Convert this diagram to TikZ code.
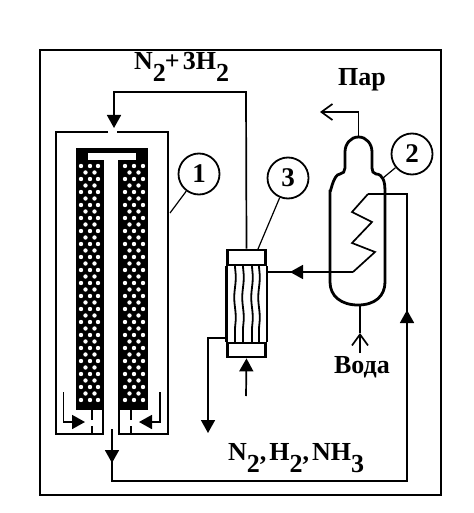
\documentclass[tikz,border=0pt]{standalone}
\usepackage{fontspec}
\setmainfont{Liberation Serif}
\usetikzlibrary{arrows.meta,positioning,decorations.pathmorphing}
\newcommand{\lowered}[1]{\raisebox{-12pt}{#1}}
\begin{document}
\begin{tikzpicture}[x=1pt,y=-1pt,
  wall/.style={draw=black, line width=2.8pt},
  pipe/.style={draw=black, line width=1.7pt, line join=miter},
  flow/.style={pipe, -{Triangle[length=13pt,width=14pt]}},
  steam/.style={pipe, -{Straight Barb[length=11pt,width=16pt]}},
  label/.style={font=\fontsize{26}{28}\selectfont\bfseries, inner sep=0pt},
  callout/.style={circle, draw=black, line width=1.8pt, minimum size=41pt, inner sep=0pt,
    font=\fontsize{27}{29}\selectfont\bfseries},
  lead/.style={draw=black, line width=1.2pt},
  header/.style={rectangle, draw=black, line width=2.8pt, minimum width=38pt, inner sep=0pt, fill=white},
  tube/.style={draw=black, line width=1.8pt, decorate, decoration={snake, amplitude=0.8pt, segment length=40pt}}
]
  \useasboundingbox (0,0) rectangle (473,513);
  \fill[white] (0,0) rectangle (473,513);
  \draw[draw=black, line width=2.4pt] (40,50) rectangle (441,495);

  % reactor 1: beds
  \fill[black] (76,148) rectangle (103,410);
  \fill[black] (119,148) rectangle (148,410);
  \fill[black] (76,148) rectangle (148,160);
  \fill[white] (88,153) rectangle (136,160);
  \fill[white] (103,153) rectangle (119,410);
  \foreach \y in {166,179,...,405}
    \foreach \x in {81,90,98,125,134,143}
      \fill[white] (\x,\y) circle (2.2pt);
  \foreach \y in {172.5,185.5,...,405}
    \foreach \x in {85.5,94.5,129.5,138.5}
      \fill[white] (\x,\y) circle (2.2pt);

  % reactor 1: shell
  \draw[wall] (108,132) -- (56,132) -- (56,434) -- (103,434) -- (103,160);
  \draw[wall] (117,132) -- (168,132) -- (168,434) -- (119,434) -- (119,160);
  \draw[pipe] (92,410) -- (92,420) (92,426) -- (92,434);
  \draw[pipe] (131,410) -- (131,420) (131,426) -- (131,434);
  \coordinate (inL) at (63.5,392);
  \coordinate (inR) at (160,392);
  \draw[flow] (inL) |- (85,422);
  \draw[flow] (inR) |- (139,422);

  % exchanger 3
  \node[header, minimum height=15pt] (hxtop) at (246.5,257.5) {};
  \node[header, minimum height=14pt] (hxbot) at (246.5,350) {};
  \draw[wall] (hxtop.south west) -- (hxbot.north west);
  \draw[wall] (hxtop.south east) -- (hxbot.north east);
  \foreach \x in {235,243,252,259}
    \draw[tube] (\x,265) -- (\x,343);

  % vessel 2
  \node[inner sep=0pt, minimum size=0pt] (vessel) at (358.5,137) {};
  \draw[draw=black, line width=2.8pt] (vessel) to[out=0,in=90] (372,152) -- (372,168)
    to[out=-90,in=180] ++(4,6) to[out=0,in=90] (385,190) -- (385,282)
    .. controls (385,296) and (375,305) .. (358,305)
    .. controls (341,305) and (330,296) .. (330,282) -- (330,190)
    to[out=-90,in=180] (340,174) to[out=0,in=-90] (345,168) -- (345,152)
    to[out=90,in=180] (vessel);

  % coil
  \coordinate (coilin) at (368,194);
  \coordinate (coilout) at (353,272);
  \draw[pipe] (coilin) -- (352,212) -- (372,222) -- (352,243) -- (375,252) -- (coilout);

  % process lines
  \coordinate (feedtop) at (246,92);
  \coordinate (reactorin) at (114,128);
  \draw[flow] (hxtop.north) -- (feedtop) -| (reactorin);
  \coordinate (reactorout) at (112,429);
  \coordinate (recycle) at (407,481);
  \draw[pipe] (reactorout) -- (112,481) -- (recycle) -- (407,194) -- (coilin);
  \draw[flow] (112,440) -- (112,463);
  \draw[flow] (407,340) -- (407,310);
  \draw[pipe] (coilout) -- (hxtop.south east |- coilout);
  \draw[flow] (320,272) -- (290,272);
  \coordinate (drain) at (208,433);
  \draw[flow] (226,338) -| (drain);
  \coordinate (hxfeed) at (246,396);
  \draw[flow] (hxfeed) -- (hxbot.south);
  \coordinate (steamout) at (320,112);
  \draw[steam] (vessel) |- (steamout);
  \coordinate (water) at (360,353);
  \draw[steam] (water) -- (360,333);
  \draw[pipe] (360,305) -- (360,333);

  % callouts
  \node[callout] (one) at (199,174) {1};
  \node[callout] (two) at (412,154) {2};
  \node[callout] (three) at (288,178) {3};
  \draw[lead] (one) -- (170,213);
  \draw[lead] (two) -- (383,178);
  \draw[lead] (three) -- (258,249);

  % labels
  \node[label, anchor=base west] (feedlbl) at (134,70) {N\lowered{2}\kern-1pt+\kern3pt3H\lowered{2}};
  \node[label] (steamlbl) at (362,80) {Пар};
  \node[label] (waterlbl) at (362,367) {Вода};
  \node[label, anchor=base west] (outlbl) at (228,460) {N\lowered{2},\kern3pt H\lowered{2},\kern3pt NH\lowered{3}};
\end{tikzpicture}
\end{document}
